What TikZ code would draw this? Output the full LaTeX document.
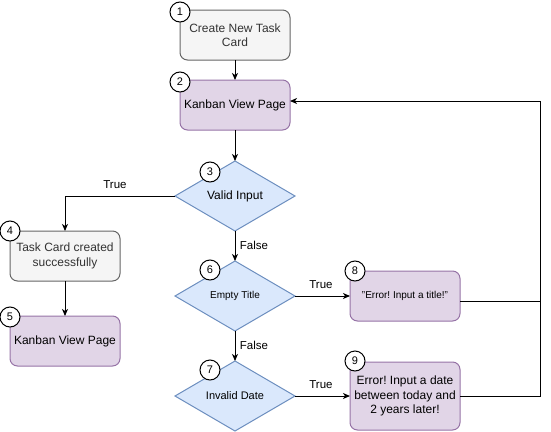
\documentclass[tikz,border=0pt]{standalone}
\usepackage{fontspec}
\setmainfont{Liberation Sans}
\usepackage{xcolor}
\usepackage{tikz}
\usetikzlibrary{calc,shapes.geometric,arrows.meta}
\frenchspacing

\definecolor{cardFill}{HTML}{F5F5F5}
\definecolor{cardLine}{HTML}{666666}
\definecolor{cardText}{HTML}{333333}
\definecolor{pageFill}{HTML}{E1D5E7}
\definecolor{pageLine}{HTML}{9673A6}
\definecolor{testFill}{HTML}{DAE8FC}
\definecolor{testLine}{HTML}{6C8EBF}

\begin{document}
\begin{tikzpicture}[x=1pt,y=-1pt,
  card/.style={draw=cardLine, fill=cardFill, text=cardText, rounded corners=7.5pt, line width=1pt, outer sep=0pt,
    minimum width=\WIDTH, minimum height=\HEIGHT, align=center, font=\fontsize{12}{14.5}\selectfont},
  page/.style={card, draw=pageLine, fill=pageFill, text=black},
  test/.style={diamond, draw=testLine, fill=testFill, line width=1pt, inner sep=0pt, outer sep=0pt,
    minimum width=120pt, minimum height=70pt, align=center},
  num/.style={circle, draw, fill=white, line width=1pt, minimum size=20pt, inner sep=0pt, font=\fontsize{11}{11}\selectfont},
  lbl/.style={font=\fontsize{11.5}{12}\selectfont, inner sep=0pt},
  arrow/.style={draw, line width=1pt, -{Stealth[length=7pt,width=6pt,inset=2pt]}},
  line/.style={draw, line width=1pt}]

\def\HEIGHT{50pt}
\def\WIDTH{110pt}

\useasboundingbox (0,0) rectangle (551,431);

% main column
\node at (235,35) [card] (n1) {Create New Task\\Card};
\node at (235,105) [page] (n2) {Kanban View Page};
\node at (235,196) [test, font=\fontsize{12}{14}\selectfont] (d3) {Valid Input};
\node at (235,296) [test, font=\fontsize{10}{12}\selectfont] (d6) {Empty Title};
\node at (235,396) [test, font=\fontsize{11}{13}\selectfont] (d7) {Invalid Date};

% left branch
\node at (65,256) [card] (n4) {Task Card created\\successfully};
\node at (65,341) [page] (n5) {Kanban View Page};

% errors
\node at (405,296) [page, font=\fontsize{10}{12}\selectfont] (n8) {\symbol{34}Error! Input a title!\symbol{34}};
\node at (405,396) [page, minimum height=68pt] (n9) {Error! Input a date\\between today and\\2 years later!};

% numbers
\node at (180,12) [num] (c1) {1};
\node at (180,82) [num] (c2) {2};
\node at (210,172) [num] (c3) {3};
\node at (10,231) [num] (c4) {4};
\node at (10,317) [num] (c5) {5};
\node at (210,270) [num] (c6) {6};
\node at (210,370) [num] (c7) {7};
\node at (355,271) [num] (c8) {8};
\node at (355,361) [num] (c9) {9};

% edges
\draw[arrow] (n1) -- (n2);
\draw[arrow] (n2) -- (d3);
\draw[arrow] (d3.west) -| (n4.north);
\draw[arrow] (n4) -- (n5);
\draw[arrow] (d3) -- (d6);
\draw[arrow] (d6) -- (d7);
\draw[arrow] (d6) -- (n8);
\draw[arrow] (d7) -- (n9);

% back to the board
\coordinate (back) at (540,101);
\coordinate (join8) at (540,301);
\draw[line] ([yshift=-5pt]n8.east) -- (join8);
\draw[arrow] (n9.east) -| (back) -- ([yshift=4pt]n2.east);

% labels
\node at (115,185) [lbl] (t3) {True};
\node at (254,245) [lbl] (f3) {False};
\node at (321,285) [lbl] (t6) {True};
\node at (254,345) [lbl] (f6) {False};
\node at (321,385) [lbl] (t7) {True};

\end{tikzpicture}
\end{document}
